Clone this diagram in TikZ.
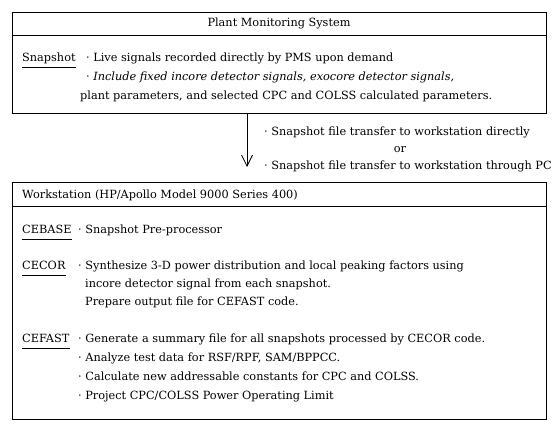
\documentclass[tikz,border=0pt]{standalone}
\usepackage{fontspec}
\setmainfont{DejaVu Serif}
\usetikzlibrary{arrows.meta}

\tikzset{
  frame/.style={draw, line width=1pt, anchor=north west, inner sep=0pt},
  txt/.style={anchor=base west, inner sep=0pt, font=\fontsize{11.3}{13}\selectfont},
  uline/.style={line width=0.9pt},
  link/.style={line width=0.8pt, -{Straight Barb[length=11pt, width=11pt]}}
}
\newcommand{\ULine}[1]{\draw[uline] ([yshift=-6pt]#1.base west) -- ([yshift=-6pt]#1.base east);}

\begin{document}
\begin{tikzpicture}[x=1pt, y=-1pt]
\useasboundingbox (0,0) rectangle (556,428);

% plant monitoring system
\node[frame, minimum width=534pt, minimum height=101pt] (pms) at (12,12) {};
\draw[line width=0.8pt] ([yshift=-23pt]pms.north west) -- ([yshift=-23pt]pms.north east);
\node[txt, anchor=center] (pmstitle) at (279,23) {Plant Monitoring System};

\node[txt] (snap) at (22,61) {Snapshot};
\ULine{snap}
\node[txt] (snapa) at (86,61) {· Live signals recorded directly by PMS upon demand};
\node[txt] (snapb) at (86,80) {· \textit{Include fixed incore detector signals, exocore detector signals,}};
\node[txt] (snapc) at (80,99) {plant parameters, and selected CPC and COLSS calculated parameters.};

% transfer
\coordinate (tip) at (247,167);
\draw[link] (pms.south -| tip) -- (tip);
\node[txt] (xfera) at (264,135) {· Snapshot file transfer to workstation directly};
\node[txt, anchor=base] (xferor) at (400,152) {or};
\node[txt] (xferb) at (264,169) {· Snapshot file transfer to workstation through PC};

% workstation
\node[frame, minimum width=534pt, minimum height=237pt] (ws) at (12,182) {};
\draw[line width=0.8pt] ([yshift=-24pt]ws.north west) -- ([yshift=-24pt]ws.north east);
\node[txt] (wstitle) at (22,198) {Workstation (HP/Apollo Model 9000 Series 400)};

\node[txt] (cebase) at (22,233) {CEBASE};
\ULine{cebase}
\node[txt] (cebasea) at (78,233) {· Snapshot Pre-processor};

\node[txt] (cecor) at (22,269) {CECOR};
\ULine{cecor}
\node[txt] (cecora) at (78,269) {· Synthesize 3-D power distribution and local peaking factors using};
\node[txt] (cecorb) at (85,287) {incore detector signal from each snapshot.};
\node[txt] (cecorc) at (85,305) {Prepare output file for CEFAST code.};

\node[txt] (cefast) at (22,342) {CEFAST};
\ULine{cefast}
\node[txt] (cefasta) at (78,342) {· Generate a summary file for all snapshots processed by CECOR code.};
\node[txt] (cefastb) at (78,361) {· Analyze test data for RSF/RPF, SAM/BPPCC.};
\node[txt] (cefastc) at (78,380) {· Calculate new addressable constants for CPC and COLSS.};
\node[txt] (cefastd) at (78,399) {· Project CPC/COLSS Power Operating Limit};

\end{tikzpicture}
\end{document}
